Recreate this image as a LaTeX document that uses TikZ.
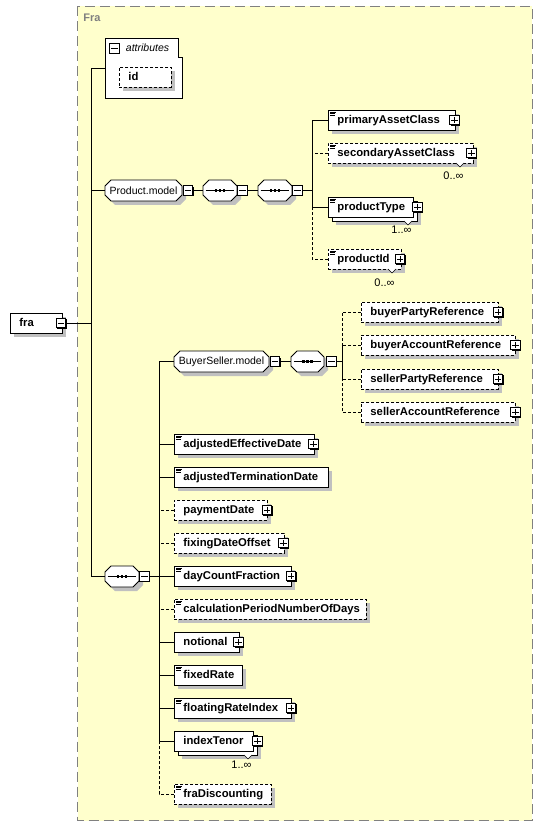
\documentclass[tikz,border=0pt]{standalone}
\usepackage{fontspec}
\setmainfont{Liberation Sans}
\usetikzlibrary{shadows}
\definecolor{panel}{RGB}{255,255,204}
\definecolor{shadowgray}{RGB}{192,192,192}
\definecolor{framegray}{RGB}{128,128,128}
\tikzset{
  elbox/.style={draw=black, fill=white, line width=0.9pt, inner sep=0pt, anchor=north west,
    minimum height=20pt, font=\fontsize{11.3}{13}\selectfont\bfseries,
    general shadow={fill=shadowgray, shadow xshift=4pt, shadow yshift=-4pt}},
  opt/.style={dash pattern=on 3pt off 2pt},
  stack/.style={general shadow={fill=shadowgray, shadow xshift=8pt, shadow yshift=-8pt},
    copy shadow={shadow xshift=4pt, shadow yshift=-4pt}},
  btnbox/.style={draw=black, fill=white, minimum size=9.5pt, inner sep=0pt, line width=0.8pt,
    general shadow={fill=black, shadow xshift=1.2pt, shadow yshift=-1.2pt}},
  compo/.style={inner sep=0pt, font=\fontsize{10.5}{12}\selectfont},
  occ/.style={inner sep=0pt, anchor=east, font=\fontsize{11}{12}\selectfont},
}
\newcommand\elm[6]{%
  \node[elbox,#5,minimum width={(#4-#2)*1pt}] (#1) at (#2,#3)
    {\makebox[\dimexpr #4pt-#2pt\relax][l]{\hspace{9pt}\strut #6}};}
\newcommand\docic[1]{%
  \draw[line width=0.7pt] ([xshift=2pt,yshift=-2pt]#1.north west) -- ++(6,0)
    ([xshift=2pt,yshift=-3.8pt]#1.north west) -- ++(5,0)
    ([xshift=2pt,yshift=-5.6pt]#1.north west) -- ++(5,0);}
\newcommand\minusbtn[3]{%
  \node[btnbox] (#1) at (#2,#3) {};
  \draw[line width=0.8pt] ([xshift=2pt]#1.west) -- ([xshift=-2pt]#1.east);}
\newcommand\plusbtn[3]{%
  \minusbtn{#1}{#2}{#3}%
  \draw[line width=0.8pt] ([yshift=-2pt]#1.north) -- ([yshift=2pt]#1.south);}
\newcommand\octo[6]{%
  \fill[shadowgray] (#2+10,#3+4) -- (#4-2,#3+4) -- (#4+4,#3+10) -- (#4+4,#5-2) -- (#4-2,#5+4)
    -- (#2+10,#5+4) -- (#2+4,#5-2) -- (#2+4,#3+10) -- cycle;
  \draw[line width=0.9pt, fill=white] (#2+6,#3) -- (#4-6,#3) -- (#4,#3+6) -- (#4,#5-6) -- (#4-6,#5)
    -- (#2+6,#5) -- (#2,#5-6) -- (#2,#3+6) -- cycle;
  \node[compo, minimum width={(#4-#2)*1pt}, minimum height={(#5-#3)*1pt}] (#1)
    at ({(#2+#4)/2},{(#3+#5)/2}) {#6};}
\newcommand\seqic[1]{%
  \draw[line width=0.9pt] ([xshift=3pt]#1.west) -- ([xshift=-3pt]#1.east);
  \fill ([xshift=-4pt]#1.center) ++(-1.4,-1.4) rectangle ++(2.8,2.8);
  \fill (#1.center) ++(-1.4,-1.4) rectangle ++(2.8,2.8);
  \fill ([xshift=4pt]#1.center) ++(-1.4,-1.4) rectangle ++(2.8,2.8);}
\newcommand\notch[2]{%
  \fill[white] (#1-4,#2) -- (#1,#2+4) -- (#1+4,#2) -- cycle;
  \draw[line width=0.6pt] (#1-4,#2) -- (#1,#2+4) -- (#1+4,#2);}
\begin{document}
\begin{tikzpicture}[x=1pt,y=-1pt,line width=0.9pt]
\useasboundingbox (0,0) rectangle (543,826);
\fill[white] (0,0) rectangle (543,826);
% panel
\draw[framegray, fill=panel, line width=1pt, dash pattern=on 10pt off 5pt] (77.5,6.5) rectangle (532,820.5);
\node[anchor=west, inner sep=0pt, text=framegray, font=\fontsize{11}{13}\selectfont\bfseries] (fralbl) at (83,18) {Fra};

% named junctions of the trees
\coordinate (tA) at (91,323);
\coordinate (tP) at (312,190.5);
\coordinate (tB) at (159,576.5);
\coordinate (tS) at (342,361.5);

% root
\elm{fra}{10}{313}{62}{}{fra}
\minusbtn{frabtn}{61}{323}

% attributes
\node[inner sep=0pt, minimum width=77pt, minimum height=60pt, anchor=north west] (attr) at (105,38) {};
\draw[fill=white] (attr.north west) -- ([xshift=-4pt]attr.north east) -- ([xshift=-4pt,yshift=-19pt]attr.north east)
  -- ([yshift=-19pt]attr.north east) -- (attr.south east) -- (attr.south west) -- cycle;
\minusbtn{attrbtn}{114.5}{48.5}
\node[anchor=west, inner sep=0pt, font=\fontsize{10.5}{12}\selectfont\itshape] (attrlbl) at (125.5,48) {attributes};
\elm{id}{119}{67}{171}{opt}{id}

% connectors of the root
\draw (frabtn.east) -- (tA);
\draw (attr.west) -| (tA);

% Product.model group
\octo{pm}{105}{180}{182}{201}{Product.model}
\minusbtn{pmbtn}{188}{190.5}
\octo{seqa}{203}{180}{237}{201}{}
\seqic{seqa}
\minusbtn{seqabtn}{242.5}{190.5}
\octo{seqb}{258}{180}{292}{201}{}
\seqic{seqb}
\minusbtn{seqbbtn}{297.5}{190.5}
\draw (pm.west) -| (tA);
\draw (pmbtn.east) -- (seqa.west);
\draw (seqabtn.east) -- (seqb.west);
\draw (seqbbtn.east) -- (tP);

\elm{pac}{328}{110}{455}{}{primaryAssetClass}
\docic{pac}
\plusbtn{pacbtn}{454.5}{120}
\elm{sac}{328}{143}{473}{opt}{secondaryAssetClass}
\docic{sac}
\plusbtn{sacbtn}{471.5}{153}
\notch{460}{163}
\node[occ] (sacocc) at (464,176) {0..∞};
\elm{ptype}{328}{197}{413}{stack}{productType}
\docic{ptype}
\plusbtn{ptypebtn}{417.5}{207}
\notch{408}{221}
\node[occ] (ptypeocc) at (412,230) {1..∞};
\elm{pid}{328}{249}{401}{opt}{productId}
\docic{pid}
\plusbtn{pidbtn}{400}{259}
\notch{392}{269}
\node[occ] (pidocc) at (395,283) {0..∞};

\draw (pac.west) -| (tP);
\draw[opt] (sac.west) -| (tP);
\draw (ptype.west) -| (tP);
\draw[opt] (pid.west) -| (tP);

% main sequence
\octo{seqm}{105}{566}{139}{587}{}
\seqic{seqm}
\minusbtn{seqmbtn}{144.5}{576.5}
\draw (seqm.west) -| (tA);
\draw (seqmbtn.east) -- (tB);

% BuyerSeller.model
\octo{bs}{174}{351}{269}{372}{BuyerSeller.model}
\minusbtn{bsbtn}{275}{361.5}
\octo{seqs}{291}{351}{324}{372}{}
\seqic{seqs}
\minusbtn{seqsbtn}{331.5}{361.5}
\draw (bs.west) -| (tB);
\draw (bsbtn.east) -- (seqs.west);
\draw (seqsbtn.east) -- (tS);

\elm{bpr}{361}{302}{498}{opt}{buyerPartyReference}
\plusbtn{bprbtn}{498}{312}
\elm{bar}{361}{335}{515}{opt}{buyerAccountReference}
\plusbtn{barbtn}{515.5}{345}
\elm{spr}{361}{369}{498}{opt}{sellerPartyReference}
\plusbtn{sprbtn}{498}{379}
\elm{sar}{361}{402}{515}{opt}{sellerAccountReference}
\plusbtn{sarbtn}{515.5}{412}
\draw[opt] (bpr.west) -| (tS);
\draw[opt] (bar.west) -| (tS);
\draw[opt] (spr.west) -| (tS);
\draw[opt] (sar.west) -| (tS);

% children of the main sequence
\elm{aed}{174}{434}{313.5}{}{adjustedEffectiveDate}
\docic{aed}
\plusbtn{aedbtn}{313.5}{444}
\elm{atd}{174}{467}{328}{}{adjustedTerminationDate}
\docic{atd}
\elm{pd}{174}{500}{267}{opt}{paymentDate}
\plusbtn{pdbtn}{267}{510}
\elm{fdo}{174}{533}{284}{opt}{fixingDateOffset}
\plusbtn{fdobtn}{283.5}{543}
\elm{dcf}{174}{566}{291}{}{dayCountFraction}
\docic{dcf}
\plusbtn{dcfbtn}{291}{576}
\elm{cpn}{174}{599}{366}{opt}{calculationPeriodNumberOfDays}
\docic{cpn}
\elm{ntl}{174}{632}{239}{}{notional}
\plusbtn{ntlbtn}{238.5}{642}
\elm{fxr}{174}{665}{242}{}{fixedRate}
\docic{fxr}
\elm{fri}{174}{698}{291}{}{floatingRateIndex}
\docic{fri}
\plusbtn{fribtn}{291}{708}
\elm{itn}{174}{731}{253}{stack}{indexTenor}
\plusbtn{itnbtn}{257.5}{741}
\notch{248}{755}
\node[occ] (itnocc) at (252,765) {1..∞};
\elm{frd}{174}{784}{271}{opt}{fraDiscounting}
\docic{frd}

\draw (aed.west) -| (tB);
\draw (atd.west) -| (tB);
\draw[opt] (pd.west) -| (tB);
\draw[opt] (fdo.west) -| (tB);
\draw (dcf.west) -| (tB);
\draw[opt] (cpn.west) -| (tB);
\draw (ntl.west) -| (tB);
\draw (fxr.west) -| (tB);
\draw (fri.west) -| (tB);
\draw (itn.west) -| (tB);
\draw[opt] (frd.west) -| (tB);
\end{tikzpicture}
\end{document}
